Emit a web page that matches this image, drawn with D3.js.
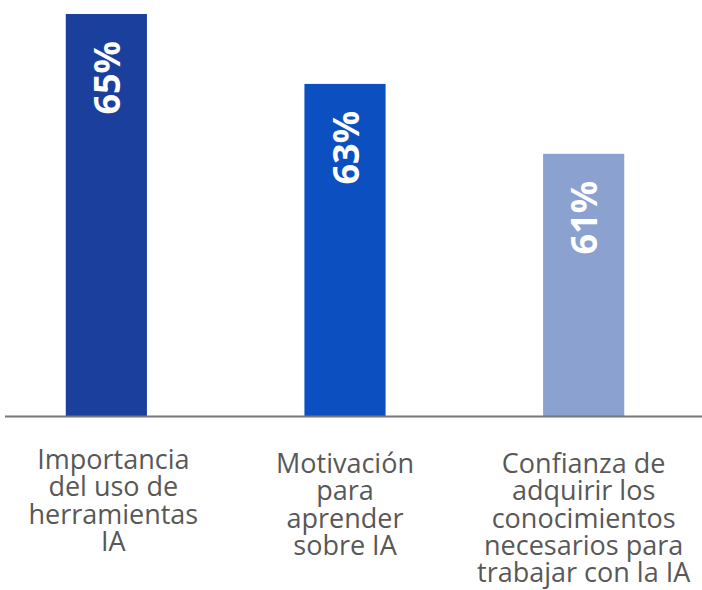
<!DOCTYPE html>
<html>
<head>
<meta charset="utf-8">
<script src="https://cdn.jsdelivr.net/npm/d3@7"></script>
<style>
  html, body { margin: 0; padding: 0; background: #ffffff; }
  svg { display: block; }
</style>
</head>
<body>
<svg id="chart" width="702" height="590"></svg>
<script>
// Survey results: share of respondents per statement
const categories = ["importancia", "motivacion", "confianza"];
const values = [65, 63, 61];
const valueLabels = ["65%", "63%", "61%"];
const categoryLines = [
  ["Importancia", "del uso de", "herramientas", "IA"],
  ["Motivación", "para", "aprender", "sobre IA"],
  ["Confianza de", "adquirir los", "conocimientos", "necesarios para", "trabajar con la IA"]
];
const barColors = ["#1a3f9c", "#0c4fc0", "#8ba1d0"];

const svg = d3.select("#chart");
const baseline = 416;

const x = d3.scaleBand()
  .domain(categories)
  .range([-13, 703])
  .paddingInner(0.66)
  .paddingOuter(0.33);

const y = d3.scaleLinear()
  .domain([53.5, 65])
  .range([baseline, 14]);

const g = svg.append("g");

// bars
g.selectAll("rect.bar")
  .data(values)
  .join("rect")
  .attr("class", "bar")
  .attr("x", (d, i) => x(categories[i]))
  .attr("width", x.bandwidth())
  .attr("y", d => y(d))
  .attr("height", d => baseline - y(d))
  .attr("fill", (d, i) => barColors[i]);

// baseline axis
const axis = d3.axisBottom(x).tickSize(0).tickFormat("");
const axisG = svg.append("g")
  .attr("transform", `translate(0,${baseline})`)
  .call(axis);
axisG.select(".domain").remove();
axisG.append("line")
  .attr("x1", 5).attr("x2", 702)
  .attr("y1", 0.5).attr("y2", 0.5)
  .attr("stroke", "#777777")
  .attr("stroke-width", 2);

// rotated value labels inside the bars
g.selectAll("text.value")
  .data(values)
  .join("text")
  .attr("class", "value")
  .attr("transform", (d, i) => {
    const cx = x(categories[i]) + x.bandwidth() / 2;
    return `translate(${cx},${y(d) + 27}) rotate(-90)`;
  })
  .attr("text-anchor", "end")
  .attr("dominant-baseline", "central")
  .attr("fill", "#ffffff")
  .attr("font-family", "'Open Sans', sans-serif")
  .attr("font-weight", 700)
  .attr("font-size", 36)
  .text((d, i) => valueLabels[i]);

// category labels under the axis
const firstBaseline = [469, 473, 473];
const labelG = svg.append("g");
categoryLines.forEach((lines, i) => {
  const cx = x(categories[i]) + x.bandwidth() / 2 + (i === 0 ? 7 : 0);
  const t = labelG.append("text")
    .attr("text-anchor", "middle")
    .attr("fill", "#585858")
    .attr("font-family", "'Open Sans', sans-serif")
    .attr("font-size", 27);
  lines.forEach((line, k) => {
    t.append("tspan")
      .attr("x", cx)
      .attr("y", firstBaseline[i] + k * 27.3)
      .text(line);
  });
});
</script>
</body>
</html>
